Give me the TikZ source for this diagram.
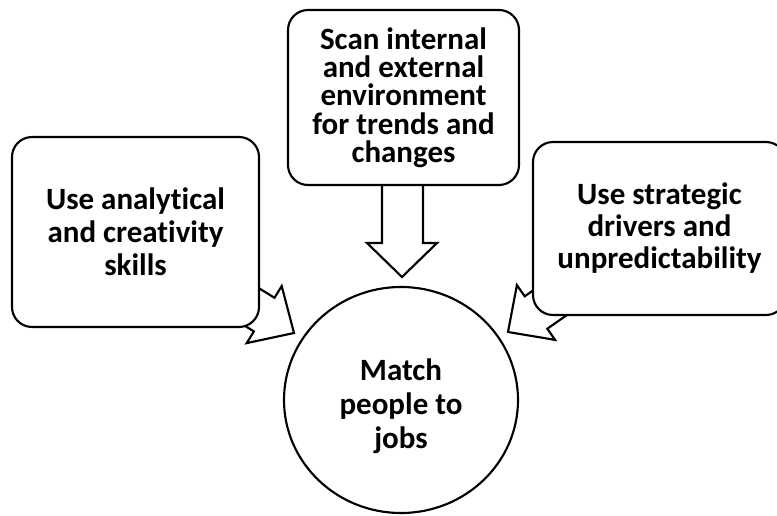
\documentclass[tikz,border=0pt]{standalone}
\usepackage{fontspec}
\setmainfont{Carlito}[Ligatures={NoCommon,NoRequired,NoContextual}]
\usetikzlibrary{shapes.geometric}
\tikzset{
  outline/.style={draw=black, line width=1.6pt, line join=miter},
  roundbox/.style={outline, fill=white, rounded corners=15pt, inner sep=0pt, align=center},
  blockarrow/.style={outline, fill=white},
  lbl/.style={font=\bfseries\fontsize{23.25pt}{#1}\selectfont},
}
\begin{document}
\begin{tikzpicture}[x=0.75pt,y=-0.75pt]
\useasboundingbox (0,0) rectangle (777,516);
\clip (0,0) rectangle (777,516);
% block arrows (drawn first, boxes cover their tails)
\draw[blockarrow] (382,170) -- (382,243) -- (367,243) -- (402,277) -- (437,243) -- (423,243) -- (423,170) -- cycle;
\draw[blockarrow] (202.7,299.8) -- (253.9,331.4) -- (246.7,343.1) -- (294,333) -- (281.7,286.1) -- (274.5,297.8) -- (223.3,266.2) -- cycle;
\draw[blockarrow] (596.6,294.4) -- (547.3,328.7) -- (555.1,339.9) -- (508,332) -- (516.9,285.1) -- (524.7,296.3) -- (574.0,262.0) -- cycle;
% boxes
\node[roundbox, lbl=24.75pt, minimum width=185.25pt, minimum height=142.5pt] (left) at (135.5,232)
  {Use analytical\\and creativity\\skills};
\node[roundbox, lbl=21.2pt, minimum width=173.25pt, minimum height=131.25pt] (top) at (403.5,97.5)
  {Scan internal\\and external\\environment\\for trends and\\changes};
\node[roundbox, lbl=24pt, minimum width=189.75pt, minimum height=129.75pt] (right) at (659.5,228.5)
  {Use strategic\\drivers and\\unpredictability};
\node[ellipse, outline, fill=white, inner sep=0pt, minimum width=175.5pt, minimum height=169.5pt] (match) at (401,400) {};
\node[align=center, lbl=25.5pt, inner sep=0pt] (matchtext) at ([yshift=-4.5pt]match.center)
  {Match\\people to\\jobs};
\end{tikzpicture}
\end{document}
